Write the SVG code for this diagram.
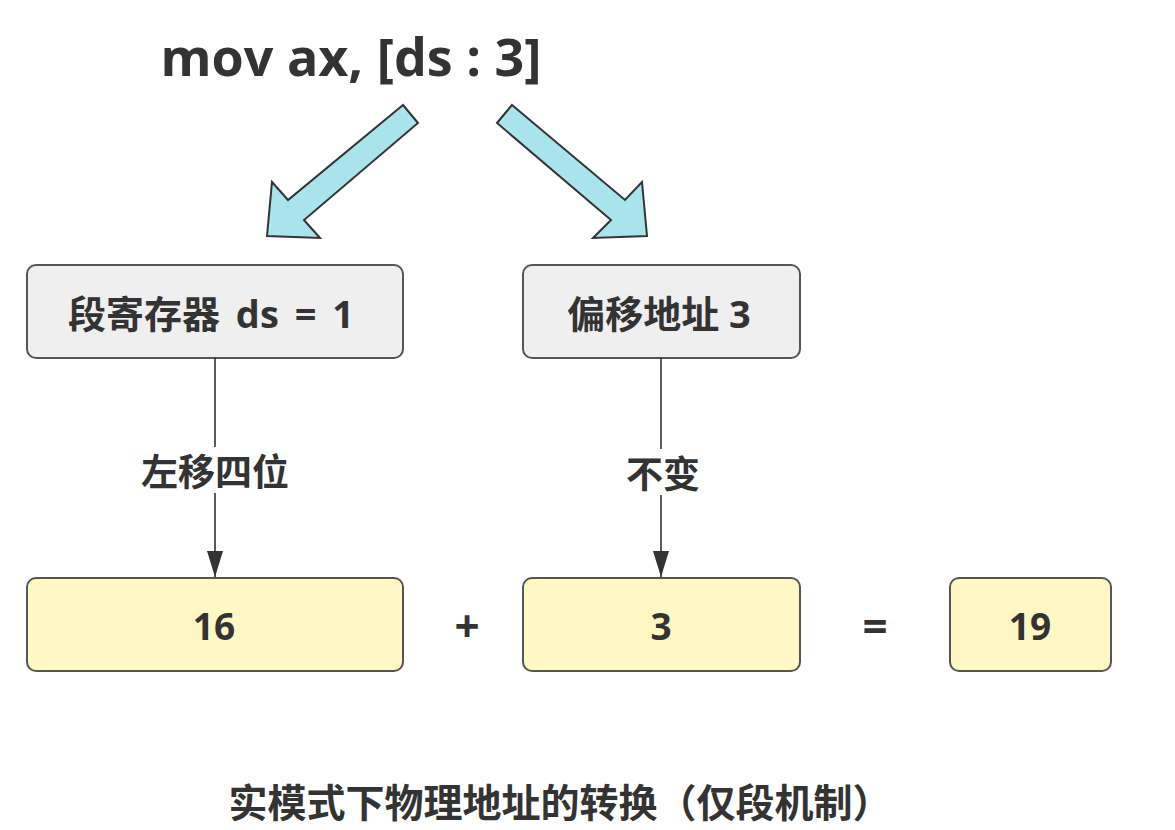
<svg xmlns="http://www.w3.org/2000/svg" width="1175" height="830" viewBox="0 0 1175 830">
<defs>
<style>
.t{font-family:"Open Sans","Noto Sans CJK SC",sans-serif;font-weight:bold;fill:#333;text-anchor:middle;dominant-baseline:central}
.cj{font-family:"Noto Sans CJK SC",sans-serif;font-weight:bold;fill:#333;text-anchor:middle;dominant-baseline:central}
.gray{fill:#EFEFEF;stroke:#555;stroke-width:2}
.yel{fill:#FFF7C4;stroke:#555;stroke-width:2}
.big{fill:#A9E3EC;stroke:#333;stroke-width:2;stroke-linejoin:miter}
.ln{stroke:#333;stroke-width:1.6;fill:none}
</style>
<marker id="ah" viewBox="0 0 26 16" refX="26" refY="8" markerWidth="26" markerHeight="16" markerUnits="userSpaceOnUse" orient="auto">
<path d="M0,0 L26,8 L0,16 Z" fill="#333"/>
</marker>
</defs>
<rect width="1175" height="830" fill="#fff"/>
<g id="title"><text class="t" x="351" y="55" font-size="52">mov ax, [ds : 3]</text></g>
<g id="bigarrows">
<polygon class="big" points="403,105 288,200 272,182 267,236 320,238 304,220 418,123"/>
<polygon class="big" points="512,105 625,200 642,182 647,236 593,238 611,220 497,123"/>
</g>
<g id="seg"><rect class="gray" x="27" y="265" width="376" height="93" rx="9"/><text class="t" x="211" y="313" font-size="38" word-spacing="6">段寄存器 ds = 1</text></g>
<g id="off"><rect class="gray" x="523" y="265" width="277" height="93" rx="9"/><text class="t" x="659" y="313" font-size="38">偏移地址 3</text></g>
<g id="n16"><rect class="yel" x="27" y="578" width="376" height="93" rx="9"/><text class="t" x="214" y="625" font-size="37">16</text></g>
<g id="n3"><rect class="yel" x="523" y="578" width="277" height="93" rx="9"/><text class="t" x="661" y="625" font-size="37">3</text></g>
<g id="n19"><rect class="yel" x="950" y="578" width="161" height="93" rx="9"/><text class="t" x="1030" y="625" font-size="37">19</text></g>
<g id="ops"><text class="t" x="467" y="625" font-size="44">+</text><text class="t" x="875" y="625" font-size="44">=</text></g>
<g id="connectors">
<line class="ln" x1="215" y1="358" x2="215" y2="447"/>
<line class="ln" x1="215" y1="493" x2="215" y2="577" marker-end="url(#ah)"/>
<text class="cj" x="215" y="470" font-size="37">左移四位</text>
<line class="ln" x1="661" y1="358" x2="661" y2="449"/>
<line class="ln" x1="661" y1="495" x2="661" y2="577" marker-end="url(#ah)"/>
<text class="cj" x="663" y="472" font-size="37">不变</text>
</g>
<g id="caption"><text class="cj" x="560" y="800" font-size="39">实模式下物理地址的转换（仅段机制）</text></g>
</svg>
